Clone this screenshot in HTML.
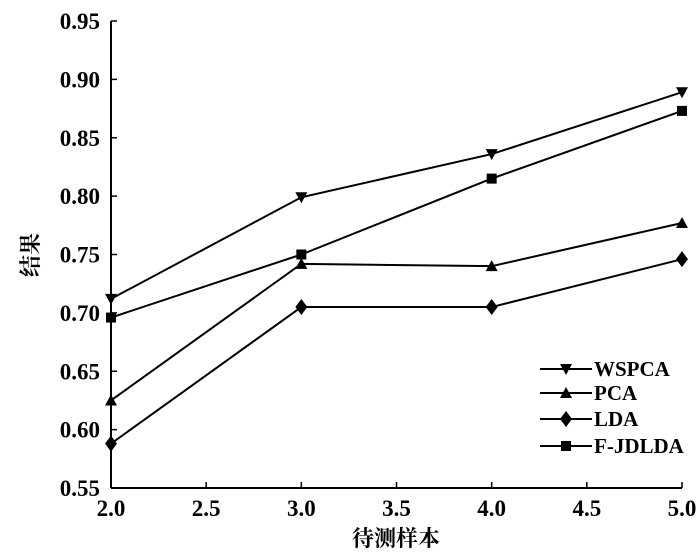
<!DOCTYPE html>
<html><head><meta charset="utf-8"><style>
body{margin:0;background:#fff}
svg text{font-family:"Liberation Serif","Noto Serif CJK SC",serif;font-weight:bold;fill:#000}
</style></head><body>
<svg id="c" width="700" height="555"></svg>
<script>
const xTicks=[2.0,2.5,3.0,3.5,4.0,4.5,5.0];
const yTicks=[0.55,0.60,0.65,0.70,0.75,0.80,0.85,0.90,0.95];
const xVals=[2,3,4,5];
const seriesNames=["WSPCA","PCA","LDA","F-JDLDA"];
const wspca=[0.712,0.799,0.836,0.889];
const pca=[0.625,0.742,0.740,0.777];
const lda=[0.588,0.705,0.705,0.746];
const fjdlda=[0.696,0.750,0.815,0.873];
const markers=["tdown","tup","diamond","square"];
const data=[wspca,pca,lda,fjdlda];
const X0=111,X1=682,Y0=488,Y1=21;
const sx=v=>X0+(v-2)/3*(X1-X0);
const sy=v=>Y0-(v-0.55)/0.4*(Y0-Y1);
const svg=document.getElementById('c');
const NS='http://www.w3.org/2000/svg';
function mk(t,a,p){const e=document.createElementNS(NS,t);for(const k in a)e.setAttribute(k,a[k]);(p||svg).appendChild(e);return e;}
function marker(kind,x,y,g){
  let pts;
  if(kind==='tdown')pts=[[x-6,y-5],[x+6,y-5],[x,y+6]];
  else if(kind==='tup')pts=[[x-6,y+5],[x+6,y+5],[x,y-6]];
  else if(kind==='diamond')pts=[[x,y-8],[x+6,y],[x,y+8],[x-6,y]];
  else pts=[[x-5,y-5],[x+5,y-5],[x+5,y+5],[x-5,y+5]];
  const m=mk('polygon',{points:pts.map(p=>p.join(',')).join(' '),fill:'#000'},g);
  
  
}
const ax=mk('g',{});


mk('line',{x1:X0,y1:Y1,x2:X0,y2:Y0,stroke:'#000','stroke-width':2},ax);
mk('line',{x1:X0,y1:Y0,x2:X1,y2:Y0,stroke:'#000','stroke-width':2},ax);
yTicks.forEach(v=>{
  const y=sy(v);
  mk('line',{x1:X0,y1:y,x2:X0+6,y2:y,stroke:'#000','stroke-width':1.5},ax);
  const t=mk('text',{x:100,y:y+8,'text-anchor':'end','font-size':23},ax);
  t.textContent=v.toFixed(2);
  
  
});
xTicks.forEach(v=>{
  const x=sx(v);
  mk('line',{x1:x,y1:Y0,x2:x,y2:Y0-6,stroke:'#000','stroke-width':1.5},ax);
  const t=mk('text',{x:x,y:516,'text-anchor':'middle','font-size':23},ax);
  t.textContent=v.toFixed(1);
  
  
});
const xt=mk('text',{x:396,y:546,'text-anchor':'middle','font-size':22});
xt.textContent='待测样本';


const yt=mk('text',{x:0,y:0,'text-anchor':'middle','font-size':22,transform:'translate(38,255) rotate(-90)'});
yt.textContent='结果';


data.forEach((d,i)=>{
  const g=mk('g',{});
  
  
  mk('polyline',{points:d.map((v,j)=>sx(xVals[j])+','+sy(v)).join(' '),fill:'none',stroke:'#000','stroke-width':2},g);
  d.forEach((v,j)=>marker(markers[i],sx(xVals[j]),sy(v),g));
});
const legY=[369,393,419,446];
seriesNames.forEach((n,i)=>{
  const g=mk('g',{});
  
  
  mk('line',{x1:540,y1:legY[i],x2:592,y2:legY[i],stroke:'#000','stroke-width':2},g);
  marker(markers[i],566,legY[i],g);
  const t=mk('text',{x:594,y:legY[i]+7,'font-size':21},g);
  t.textContent=n;
});
</script>
</body></html>
